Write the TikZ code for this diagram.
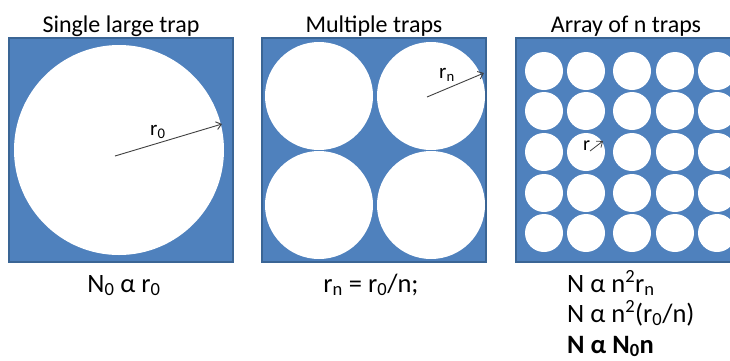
\documentclass[tikz,border=0pt]{standalone}
\usepackage{fontspec}
\setmainfont{Carlito}
\usetikzlibrary{arrows.meta}
\definecolor{trapblue}{HTML}{4F81BD}
\definecolor{trapedge}{HTML}{3A6595}
\begin{document}
\begin{tikzpicture}[x=1pt,y=-1pt,
  panel/.style={fill=trapblue,draw=trapedge,line width=1.6pt},
  hole/.style={fill=white},
  title/.style={anchor=base,inner sep=0pt,font=\fontsize{24}{28}\selectfont},
  eqn/.style={anchor=base,inner sep=0pt,font=\fontsize{26.5}{30}\selectfont},
  eqline/.style={anchor=base west,inner sep=0pt,font=\fontsize{26.5}{30}\selectfont},
  radlbl/.style={anchor=base west,inner sep=0pt,font=\fontsize{21}{24}\selectfont},
  radius arrow/.style={draw=black!75,line width=0.9pt,-{Straight Barb[length=5pt,width=8pt]}}]
\useasboundingbox (0,0) rectangle (730,360);
\clip (0,0) rectangle (730,360);
\fill[white] (0,0) rectangle (730,360);

% titles
\node[title] (t1) at (121,32) {Single large trap};
\node[title] (t2) at (374,32) {Multiple traps};
\node[title] (t3) at (626,32) {Array of n traps};

% panel 1
\draw[panel] (9,38) rectangle (233,262);
\fill[hole] (119,150) circle[radius=105pt];
\coordinate (a1s) at (115,156);
\coordinate (a1e) at (222,124);
\draw[radius arrow] (a1s) -- (a1e);
\node[radlbl] (l1) at (150,135) {r\textsubscript{0}};

% panel 2
\draw[panel] (262,38) rectangle (486,262);
\foreach \cx in {319,431}
  \foreach \cy in {96,205}
    \fill[hole] (\cx,\cy) circle[radius=54pt];
\coordinate (a2s) at (427,97);
\coordinate (a2e) at (484,73);
\draw[radius arrow] (a2s) -- (a2e);
\node[radlbl] (l2) at (439,78) {r\textsubscript{n}};

% panel 3
\draw[panel] (516,38) rectangle (742,262);
\foreach \cx in {544,586,632,675,717}
  \foreach \cy in {71,111,152,193,233}
    \fill[hole] (\cx,\cy) circle[radius=19pt];
\coordinate (a3s) at (590,151);
\coordinate (a3e) at (603,141);
\draw[radius arrow,line width=0.8pt] (a3s) -- (a3e);
\node[radlbl,font=\fontsize{20}{24}\selectfont] (l3) at (583,150) {r};

% equations
\node[eqn] (e1) at (124,292) {N\textsubscript{0} α r\textsubscript{0}};
\node[eqn] (e2) at (371,292) {r\textsubscript{n} = r\textsubscript{0}/n;};
\node[eqline] (e3) at (567,292) {N α n\textsuperscript{2}r\textsubscript{n}};
\node[eqline] (e4) at (567,322) {N α n\textsuperscript{2}(r\textsubscript{0}/n)};
\node[eqline] (e5) at (567,353) {\bfseries N α N\textsubscript{0}n};
\end{tikzpicture}
\end{document}
